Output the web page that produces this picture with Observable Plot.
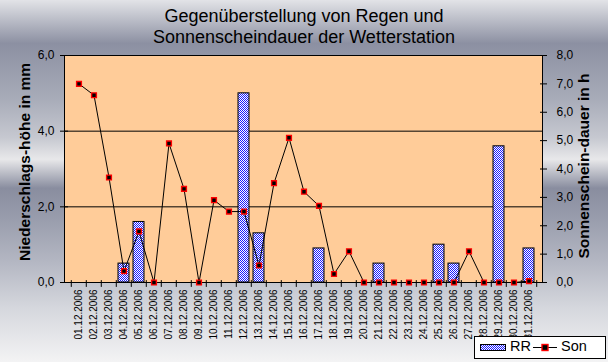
<!DOCTYPE html>
<html><head><meta charset="utf-8">
<script src="https://cdn.jsdelivr.net/npm/d3@7"></script>
<script src="https://cdn.jsdelivr.net/npm/@observablehq/plot@0.6"></script>
<style>
body{margin:0}
#chart{position:relative;width:608px;height:362px;overflow:hidden;
background:linear-gradient(to bottom,#e2e3e7 0%,#8c90a2 12%,#a7abb8 27%,#c6c8d0 38%,#e8e8ea 44%,#898d9f 52%,#989cac 60%,#b3b6c2 72%,#d5d7dd 85%,#f3f3f4 100%);
font-family:Arial,"Liberation Sans",sans-serif}
#title{position:absolute;left:0;top:6px;width:608px;text-align:center;font-size:18px;line-height:21px;color:#000}
#plot{position:absolute;left:0;top:46px}
.ytitle{position:absolute;white-space:nowrap;font-weight:bold;font-size:15.5px;transform:translate(-50%,-50%) rotate(-90deg)}
#legend{position:absolute;left:474px;top:336px;width:130px;height:21px;background:#fff;border:1px solid #000;
font-family:"Liberation Sans Narrow","Arial Narrow",Arial,sans-serif;font-size:14.5px}
#legend span{position:absolute;top:1px}
#legend svg{position:absolute;left:0;top:0}
</style>
</head><body>
<div id="chart">
  <div id="title">Gegenüberstellung von Regen und<br>Sonnenscheindauer der Wetterstation</div>
  <div id="plot"></div>
  <div class="ytitle" style="left:25px;top:162px">Niederschlags-höhe in mm</div>
  <div class="ytitle" style="left:584px;top:166px">Sonnenschein-dauer in h</div>
  <div id="legend">
    <svg width="130" height="21">
      <defs><pattern id="legPat" width="2" height="2" patternUnits="userSpaceOnUse"><rect width="2" height="2" fill="#fff"/><rect width="1" height="1" fill="#1a1aff"/><rect x="1" y="1" width="1" height="1" fill="#1a1aff"/></pattern></defs>
      <rect x="5.5" y="7.5" width="25" height="6" fill="url(#legPat)" stroke="#000" stroke-width="1"/>
      <line x1="58" x2="82" y1="10.5" y2="10.5" stroke="#000"/>
      <rect x="67" y="7.5" width="6" height="6" fill="#000" stroke="#ff0000" stroke-width="1.4"/>
    </svg>
    <span style="left:35px">RR</span>
    <span style="left:86px">Son</span>
  </div>
</div>
<script>
const dates = ["01.12.2006","02.12.2006","03.12.2006","04.12.2006","05.12.2006","06.12.2006","07.12.2006","08.12.2006","09.12.2006","10.12.2006","11.12.2006","12.12.2006","13.12.2006","14.12.2006","15.12.2006","16.12.2006","17.12.2006","18.12.2006","19.12.2006","20.12.2006","21.12.2006","22.12.2006","23.12.2006","24.12.2006","25.12.2006","26.12.2006","27.12.2006","28.12.2006","29.12.2006","30.12.2006","31.12.2006"];
const rr  = [0,0,0,0.5,1.6,0,0,0,0,0,0,5.0,1.3,0,0,0,0.9,0,0,0,0.5,0,0,0,1.0,0.5,0,0,3.6,0,0.9];
const son = [7.0,6.6,3.7,0.4,1.8,0,4.9,3.3,0,2.9,2.5,2.5,0.6,3.5,5.1,3.2,2.7,0.3,1.1,0,0,0,0,0,0,0,1.1,0,0,0,0.05];
const rrTicks  = [0,2,4,6];
const sonTicks = [0,1,2,3,4,5,6,7,8];
const gridLines = [2,4];

const W = 608, H = 316, mL = 64, mR = 66, mT = 9, mB = 80;
const ratio = 6 / 8; // right axis 0..8 mapped onto left axis 0..6
const step = (W - mL - mR) / dates.length;
const fmt = v => v.toFixed(1).replace(".", ",");

const table = dates.map((d, i) => ({date: d, rr: rr[i], son: son[i]}));
const narrow = "'Liberation Sans Narrow','Arial Narrow',Arial,sans-serif";

const svg = Plot.plot({
  width: W, height: H,
  marginLeft: mL, marginRight: mR, marginTop: mT, marginBottom: mB,
  style: {background: "transparent", overflow: "visible", fontFamily: narrow, color: "#000"},
  x: {type: "band", domain: dates, paddingInner: 0.29, paddingOuter: 0.145, axis: null},
  y: {domain: [0, 6], axis: null},
  marks: [
    Plot.frame({fill: "#FFCC99", stroke: "#000"}),
    Plot.ruleY(gridLines, {stroke: "#000", strokeWidth: 1}),
    Plot.barY(table, {x: "date", y: "rr", fill: "url(#rrPat)", stroke: "#000", strokeWidth: 1}),
    Plot.line(table, {x: "date", y: d => d.son * ratio, stroke: "#000", strokeWidth: 1}),
    Plot.dot(table, {x: "date", y: d => d.son * ratio, symbol: "square", r: 2.7, fill: "#000", stroke: "#ff0000", strokeWidth: 1.4}),
    Plot.ruleX(dates, {x: d => d, dx: -step / 2, y1: -0.13, y2: 0.05, stroke: "#000"}),
    Plot.ruleX(dates.slice(-1), {x: d => d, dx: step / 2, y1: -0.13, y2: 0.05, stroke: "#000"}),
    Plot.axisY(rrTicks, {anchor: "left", tickSize: 8, dx: 4, tickPadding: 6, tickFormat: fmt, fontSize: 12, label: null}),
    Plot.axisY(sonTicks.map(v => v * ratio), {anchor: "right", tickSize: 7, dx: -3, tickPadding: 10, tickFormat: v => fmt(v / ratio), fontSize: 12, label: null}),
    Plot.axisX({anchor: "bottom", tickSize: 0, tickPadding: 7, tickRotate: -90, fontSize: 10, label: null})
  ]
});
const ns = "http://www.w3.org/2000/svg";
const defs = document.createElementNS(ns, "defs");
defs.innerHTML = '<pattern id="rrPat" width="2" height="2" patternUnits="userSpaceOnUse"><rect width="2" height="2" fill="#fff"/><rect width="1" height="1" fill="#1a1aff"/><rect x="1" y="1" width="1" height="1" fill="#1a1aff"/></pattern>';
svg.insertBefore(defs, svg.firstChild);
document.getElementById("plot").appendChild(svg);
</script>
</body></html>
